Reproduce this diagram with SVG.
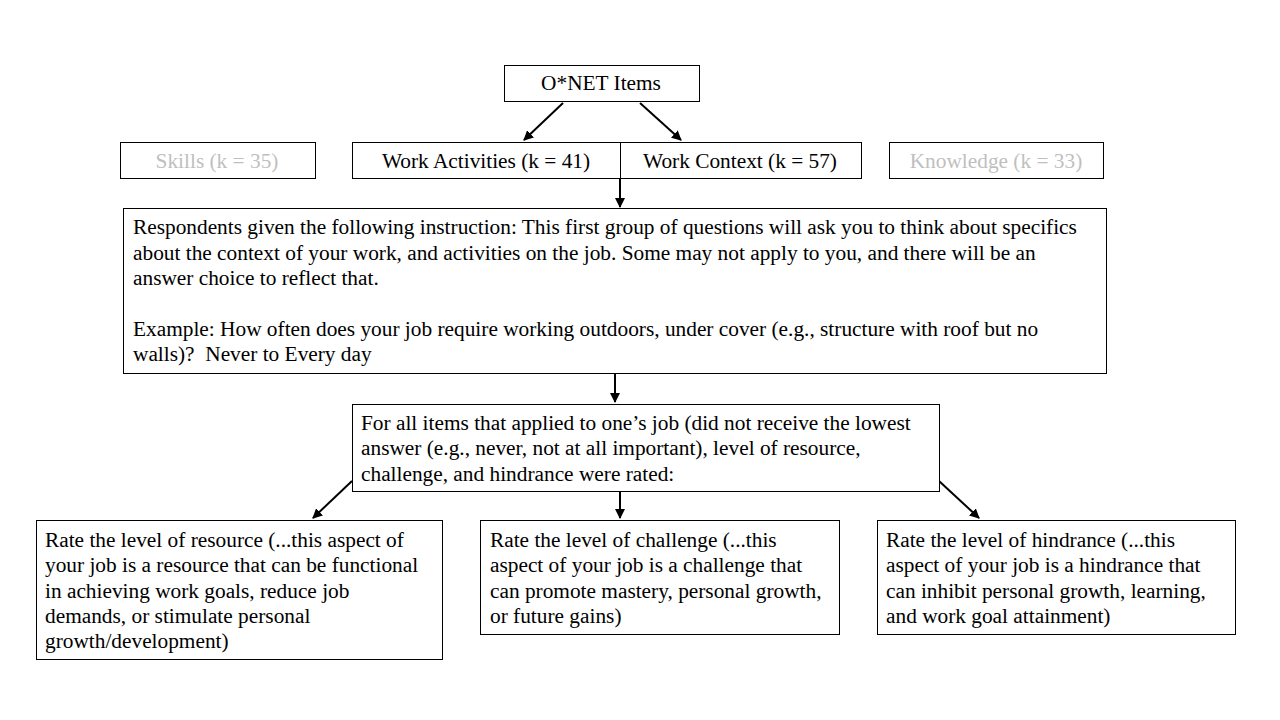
<svg xmlns="http://www.w3.org/2000/svg" width="1280" height="720" viewBox="0 0 1280 720">
<style>
.box{fill:#fff;stroke:#000;stroke-width:1}
.t{font-family:"Liberation Serif","Times New Roman",serif;font-size:21.33px;fill:#000}
.g{fill:#bfbfbf}
.c{stroke:#000;stroke-width:2;fill:none;marker-end:url(#ah)}
</style>
<defs>
<marker id="ah" viewBox="0 0 10 10" refX="9" refY="5" markerWidth="5" markerHeight="5" orient="auto" markerUnits="strokeWidth">
<path d="M0,0 L10,5 L0,10 z" fill="#000"/>
</marker>
</defs>
<rect width="1280" height="720" fill="#fff"/>
<g id="connectors">
<line class="c" x1="563" y1="103" x2="524" y2="140"/>
<line class="c" x1="640" y1="103" x2="681" y2="140"/>
<line class="c" x1="620" y1="179" x2="620" y2="207"/>
<line class="c" x1="615" y1="374" x2="615" y2="402"/>
<line class="c" x1="352" y1="481" x2="313" y2="518"/>
<line class="c" x1="620" y1="492" x2="620" y2="518"/>
<line class="c" x1="939" y1="481" x2="979" y2="518"/>
</g>
<g id="onet">
<rect class="box" x="504.5" y="65.5" width="195" height="36"/>
<text class="t" x="601" y="90" text-anchor="middle">O*NET Items</text>
</g>
<g id="skills">
<rect class="box" x="120.5" y="142.5" width="195" height="36"/>
<text class="t g" x="217" y="168" text-anchor="middle">Skills (k = 35)</text>
</g>
<g id="activities">
<rect class="box" x="352.5" y="142.5" width="268" height="36"/>
<text class="t" x="486" y="168" text-anchor="middle">Work Activities (k = 41)</text>
</g>
<g id="context">
<rect class="box" x="620.5" y="142.5" width="241" height="36"/>
<text class="t" x="740" y="168" text-anchor="middle">Work Context (k = 57)</text>
</g>
<g id="knowledge">
<rect class="box" x="889.5" y="142.5" width="214" height="36"/>
<text class="t g" x="996" y="168" text-anchor="middle">Knowledge (k = 33)</text>
</g>
<g id="instruction">
<rect class="box" x="123.5" y="208.5" width="983" height="165"/>
<text class="t" style="white-space:pre">
<tspan x="133" y="234">Respondents given the following instruction: This first group of questions will ask you to think about specifics</tspan>
<tspan x="133" y="260">about the context of your work, and activities on the job. Some may not apply to you, and there will be an</tspan>
<tspan x="133" y="285">answer choice to reflect that.</tspan>
<tspan x="133" y="336">Example: How often does your job require working outdoors, under cover (e.g., structure with roof but no</tspan>
<tspan x="133" y="361">walls)?  Never to Every day</tspan>
</text>
</g>
<g id="applied">
<rect class="box" x="352.5" y="404.5" width="587" height="87"/>
<text class="t">
<tspan x="361" y="430">For all items that applied to one’s job (did not receive the lowest</tspan>
<tspan x="361" y="455">answer (e.g., never, not at all important), level of resource,</tspan>
<tspan x="361" y="481">challenge, and hindrance were rated:</tspan>
</text>
</g>
<g id="resource">
<rect class="box" x="36.5" y="520.5" width="406" height="139"/>
<text class="t">
<tspan x="45" y="547">Rate the level of resource (...this aspect of</tspan>
<tspan x="45" y="572">your job is a resource that can be functional</tspan>
<tspan x="45" y="598">in achieving work goals, reduce job</tspan>
<tspan x="45" y="623">demands, or stimulate personal</tspan>
<tspan x="45" y="648">growth/development)</tspan>
</text>
</g>
<g id="challenge">
<rect class="box" x="480.5" y="520.5" width="359" height="114"/>
<text class="t">
<tspan x="490" y="547">Rate the level of challenge (...this</tspan>
<tspan x="490" y="572">aspect of your job is a challenge that</tspan>
<tspan x="490" y="598">can promote mastery, personal growth,</tspan>
<tspan x="490" y="623">or future gains)</tspan>
</text>
</g>
<g id="hindrance">
<rect class="box" x="877.5" y="520.5" width="358" height="114"/>
<text class="t">
<tspan x="886" y="547">Rate the level of hindrance (...this</tspan>
<tspan x="886" y="572">aspect of your job is a hindrance that</tspan>
<tspan x="886" y="598">can inhibit personal growth, learning,</tspan>
<tspan x="886" y="623">and work goal attainment)</tspan>
</text>
</g>
</svg>
